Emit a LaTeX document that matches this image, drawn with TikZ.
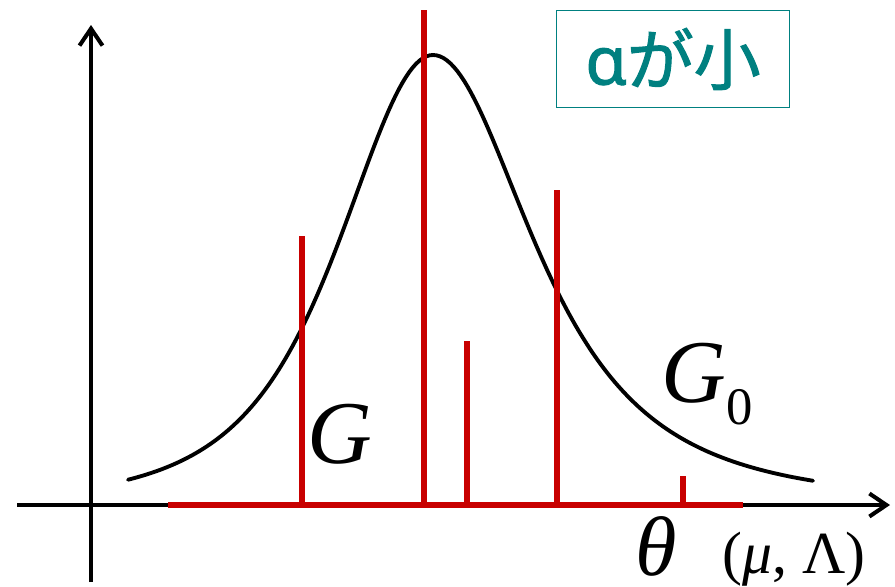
\documentclass[tikz,border=0pt]{standalone}
\usepackage{fontspec}
\setmainfont{Liberation Serif}
\newfontfamily\jpfont[FakeBold=1.6]{Noto Sans CJK JP}
\newfontfamily\grfont[FakeBold=1.6]{Noto Sans}
\usetikzlibrary{arrows.meta}
\definecolor{stickred}{RGB}{200,0,0}
\definecolor{boxteal}{RGB}{0,128,128}

\begin{document}
\begin{tikzpicture}[
    x=0.02cm, y=-0.02cm,
    axis/.style={line width=2.3pt, -{Straight Barb[length=0.34cm, width=0.46cm, line width=2.3pt]}},
    stick/.style={draw=stickred, line width=3.4pt},
    dens/.style={line width=2.2pt, line cap=round},
    lbl/.style={inner sep=0pt, font=\fontsize{51}{51}\selectfont\itshape},
    tag/.style={draw=boxteal, line width=0.9pt, text=boxteal,
                minimum width=4.66cm, minimum height=1.94cm, inner sep=0pt},
  ]
  \useasboundingbox (0,0) rectangle (895,586);

  %% 座標軸
  \coordinate (o) at (91,505);
  \draw[axis] (17,505) -- (890,505);
  \draw[axis] (91,582) -- (91,25);

  %% 基底分布 G_0（左右で裾の重さを変える）
  \draw[dens]
    plot[domain=128:433, samples=90] (\x, {505-450/(1+((433-\x)/170)^2)^2})
    -- plot[domain=433:813, samples=110] (\x, {505-450/(1+((\x-433)/155)^2)^1.5});

  %% 離散分布 G
  \draw[stick] (168,505) -- (743,505);
  \foreach \x/\h in {302/236, 424/10, 467/341, 557/190, 683/476}
    \draw[stick] (\x,505) -- (\x,\h);

  %% ラベル
  \node[lbl, anchor=base west] (g) at (307,463) {G};
  \node[lbl, anchor=base west] (gzero) at (661,402)
    {G\raisebox{-0.25em}{\fontsize{30}{30}\selectfont\upshape 0}};
  \node[lbl, anchor=base west, font=\fontsize{48}{48}\selectfont\itshape]
    (theta) at (635,575) {θ};
  \node[inner sep=0pt, anchor=base west, font=\fontsize{34}{34}\selectfont]
    (param) at (722,573) {(\textit{μ}, Λ)};

  \node[tag] (alpha) at (673,59)
    {\fontsize{38}{38}\selectfont{\grfont α}{\jpfont が小}};

\end{tikzpicture}
\end{document}
